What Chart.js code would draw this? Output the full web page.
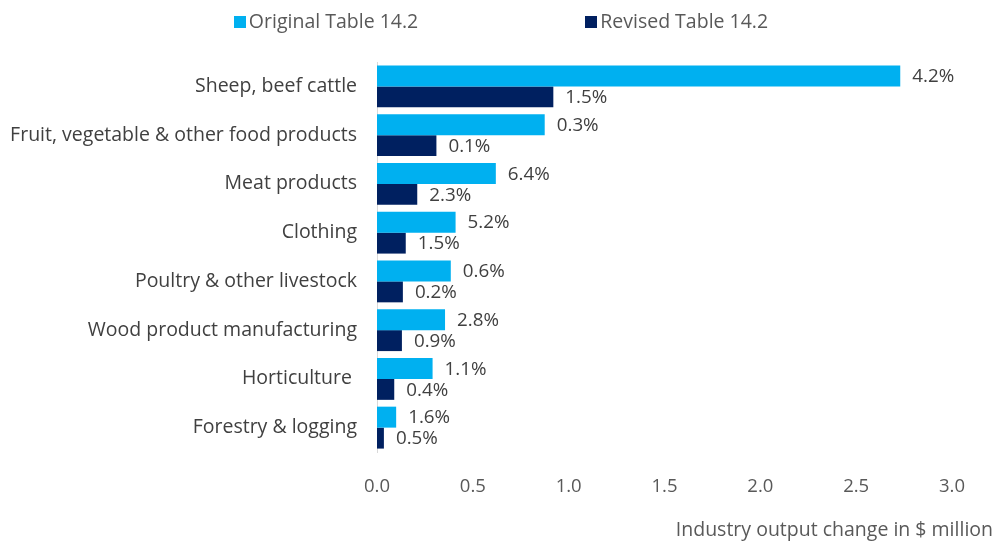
<!DOCTYPE html>
<html>
<head>
<meta charset="utf-8">
<script src="https://cdn.jsdelivr.net/npm/chart.js@4"></script>
<style>
  html, body { margin: 0; padding: 0; background: #fff; }
  #wrap { position: relative; width: 1002px; height: 543px; }
  #legend { position: absolute; top: 7px; left: 0; width: 1002px; display: flex; justify-content: center; gap: 167px;
            font-family: "Open Sans", Lato, sans-serif; font-size: 19.5px; color: #595959; }
  #legend span.box { display: inline-block; width: 12px; height: 12px; margin-right: 3px; vertical-align: 0px; }
</style>
</head>
<body>
<div id="wrap">
  <canvas id="chart" width="1002" height="543"></canvas>
  <div id="legend"></div>
</div>
<script>
// Data
const categories = ['Sheep, beef cattle', 'Fruit, vegetable & other food products', 'Meat products', 'Clothing',
    'Poultry & other livestock', 'Wood product manufacturing', 'Horticulture ', 'Forestry & logging'];
const originalValues = [2.73, 0.875, 0.62, 0.41, 0.385, 0.355, 0.29, 0.10];
const revisedValues = [0.92, 0.31, 0.21, 0.15, 0.135, 0.13, 0.09, 0.036];
const originalLabels = ['4.2%', '0.3%', '6.4%', '5.2%', '0.6%', '2.8%', '1.1%', '1.6%'];
const revisedLabels = ['1.5%', '0.1%', '2.3%', '1.5%', '0.2%', '0.9%', '0.4%', '0.5%'];
const seriesNames = ['Original Table 14.2', 'Revised Table 14.2'];
const seriesColors = ['#00B0F0', '#002060'];
const axisTitle = 'Industry output change in $ million';

const FONT = '"Open Sans", Lato, sans-serif';
const TEXT = '#404040';

// HTML legend
const legendEl = document.getElementById('legend');
seriesNames.forEach((name, i) => {
    const item = document.createElement('div');
    item.innerHTML = `<span class="box" style="background:${seriesColors[i]}"></span>${name}`;
    legendEl.appendChild(item);
});

// Value labels next to bars + axis title
const labelPlugin = {
    id: 'barLabels',
    afterDatasetsDraw(chart) {
        const ctx = chart.ctx;
        const labelSets = [originalLabels, revisedLabels];
        ctx.save();
        ctx.font = '18.8px ' + FONT;
        ctx.fillStyle = TEXT;
        ctx.textAlign = 'left';
        ctx.textBaseline = 'middle';
        chart.data.datasets.forEach((ds, di) => {
            const meta = chart.getDatasetMeta(di);
            meta.data.forEach((bar, i) => {
                ctx.fillText(labelSets[di][i], bar.x + 12, bar.y + 1);
            });
        });
        // x-axis title, right aligned near the canvas edge
        ctx.font = '19.5px ' + FONT;
        ctx.textAlign = 'right';
        ctx.fillStyle = '#595959';
        ctx.fillText(axisTitle, chart.width - 9, 530);
        ctx.restore();
    }
};

new Chart(document.getElementById('chart').getContext('2d'), {
    type: 'bar',
    data: {
        labels: categories,
        datasets: [
            { label: seriesNames[0], data: originalValues, backgroundColor: seriesColors[0] },
            { label: seriesNames[1], data: revisedValues, backgroundColor: seriesColors[1] }
        ]
    },
    options: {
        indexAxis: 'y',
        responsive: false,
        animation: false,
        layout: { padding: { top: 62, right: 50, bottom: 0, left: 0 } },
        datasets: { bar: { categoryPercentage: 0.86, barPercentage: 1.0 } },
        scales: {
            x: {
                min: 0,
                max: 3,
                ticks: {
                    stepSize: 0.5,
                    padding: 24,
                    color: '#595959',
                    font: { family: FONT, size: 18.5 },
                    callback: v => Number(v).toFixed(1)
                },
                grid: { display: false, drawTicks: false },
                border: { display: false },
                afterFit: s => { s.height = 91; }
            },
            y: {
                ticks: {
                    padding: 20,
                    color: TEXT,
                    font: { family: FONT, size: 19.5 }
                },
                grid: { display: false, drawTicks: false },
                border: { display: true, color: '#d9d9d9', width: 1 },
                afterFit: s => { s.width = 377; }
            }
        },
        plugins: {
            legend: { display: false },
            tooltip: { enabled: false }
        }
    },
    plugins: [labelPlugin]
});
</script>
</body>
</html>
